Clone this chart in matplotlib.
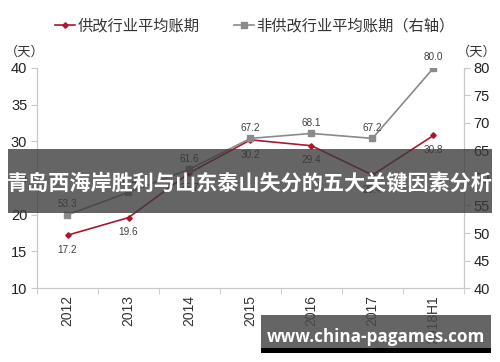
import matplotlib
matplotlib.use("Agg")
import matplotlib.pyplot as plt
from matplotlib.lines import Line2D
from matplotlib.patches import Rectangle

plt.rcParams['font.family'] = ['Liberation Sans', 'Noto Sans CJK SC', 'DejaVu Sans']

categories = ['2012', '2013', '2014', '2015', '2016', '2017', '2018H1']
reform_days = [17.2, 19.6, 25.7, 30.2, 29.4, 25.4, 30.8]
nonreform_days = [53.3, 57.4, 61.6, 67.2, 68.1, 67.2, 80.0]
reform_labels = ['17.2', '19.6', '25.7', '30.2', '29.4', '25.4', '30.8']
nonreform_labels = ['53.3', '57.4', '61.6', '67.2', '68.1', '67.2', '80.0']
legend_names = ['供改行业平均账期', '非供改行业平均账期（右轴）']
banner_text = '青岛西海岸胜利与山东泰山失分的五大关键因素分析'
watermark_text = 'www.china-pagames.com'

RED = '#A8182F'
GRAY = '#8A8A8A'
AX = '#C8C8C8'

fig = plt.figure(figsize=(5, 3.62), dpi=100)
ax = fig.add_axes([0.074, 0.2044, 0.854, 0.6078])
ax2 = ax.twinx()

x = list(range(len(categories)))
ax.plot(x, reform_days, color=RED, lw=1.2, marker='D', ms=2.8, zorder=3)
ax2.plot(x, nonreform_days, color=GRAY, lw=1.2, marker='s', ms=4.5, zorder=3)

for xi, v, t in zip(x, reform_days, reform_labels):
    ax.annotate(t, (xi, v), xytext=(0, -7), textcoords='offset points',
                ha='center', va='top', fontsize=7.2, color='#404040',
                family=['Liberation Sans', 'DejaVu Sans'])
for xi, v, t in zip(x, nonreform_days, nonreform_labels):
    ax2.annotate(t, (xi, v), xytext=(0, 4), textcoords='offset points',
                 ha='center', va='bottom', fontsize=7.2, color='#404040',
                 family=['Liberation Sans', 'DejaVu Sans'])

ax.set_xlim(-0.5, len(categories) - 0.5)
ax.set_ylim(10, 40)
ax.set_yticks(range(10, 41, 5))
ax2.set_ylim(40, 80)
ax2.set_yticks(range(40, 81, 5))

ax.set_xticks(x)
ax.set_xticklabels(categories, rotation=90, fontsize=10)
ax.set_xticks([i - 0.5 for i in range(len(categories) + 1)], minor=True)
ax.tick_params(axis='x', which='major', length=0, pad=5, colors='#333333')
ax.tick_params(axis='x', which='minor', length=4, color=AX)
ax.tick_params(axis='y', length=4, color=AX, labelsize=10.5, labelcolor='#222222', pad=3)
ax2.tick_params(axis='y', length=4, color=AX, labelsize=10.5, labelcolor='#222222', pad=3)

for a in (ax, ax2):
    a.spines['top'].set_visible(False)
    for s in ('left', 'right', 'bottom'):
        a.spines[s].set_color(AX)
        a.spines[s].set_linewidth(0.8)

# units
fig.text(5 / 500, 1 - 52 / 362, '（天）', fontsize=9.5, color='#333333', va='center', ha='left',
         family=['Noto Sans CJK SC', 'DejaVu Sans'])
fig.text(497 / 500, 1 - 52 / 362, '（天）', fontsize=9.5, color='#333333', va='center', ha='right',
         family=['Noto Sans CJK SC', 'DejaVu Sans'])

# legend
handles = [Line2D([], [], color=RED, lw=1.2, marker='D', ms=2.8),
           Line2D([], [], color=GRAY, lw=1.2, marker='s', ms=4)]
fig.legend(handles, legend_names, loc='center', bbox_to_anchor=(0.51, 1 - 26 / 362),
           ncol=2, frameon=False, handlelength=1.3, handletextpad=0.2,
           columnspacing=2.2, prop={'family': ['Noto Sans CJK SC', 'DejaVu Sans'], 'size': 11},
           labelcolor='#333333')

# banner overlay
fig.patches.append(Rectangle((8 / 500, 1 - 213 / 362), 484 / 500, 64 / 362,
                             transform=fig.transFigure, facecolor='#3a3a3a', alpha=0.78,
                             edgecolor='none', zorder=5))
fig.text(0.5, 1 - 183 / 362, banner_text, fontsize=15.2, fontweight='bold', color='white',
         ha='center', va='center', zorder=6, family=['Noto Sans CJK SC', 'DejaVu Sans'])

# watermark box
fig.patches.append(Rectangle((261 / 500, 1 - 353 / 362), 230 / 500, 5 / 362,
                             transform=fig.transFigure, facecolor='black', edgecolor='none', zorder=5))
fig.patches.append(Rectangle((261 / 500, 1 - 348 / 362), 230 / 500, 33 / 362,
                             transform=fig.transFigure, facecolor='#4a4a4a', alpha=0.85,
                             edgecolor='none', zorder=5))
fig.text(376 / 500, 1 - 337 / 362, watermark_text, fontsize=12.3, fontweight='bold', color='white',
         ha='center', va='center', zorder=6, family=['Open Sans', 'DejaVu Sans'])

fig.savefig('out.png', dpi=100)
